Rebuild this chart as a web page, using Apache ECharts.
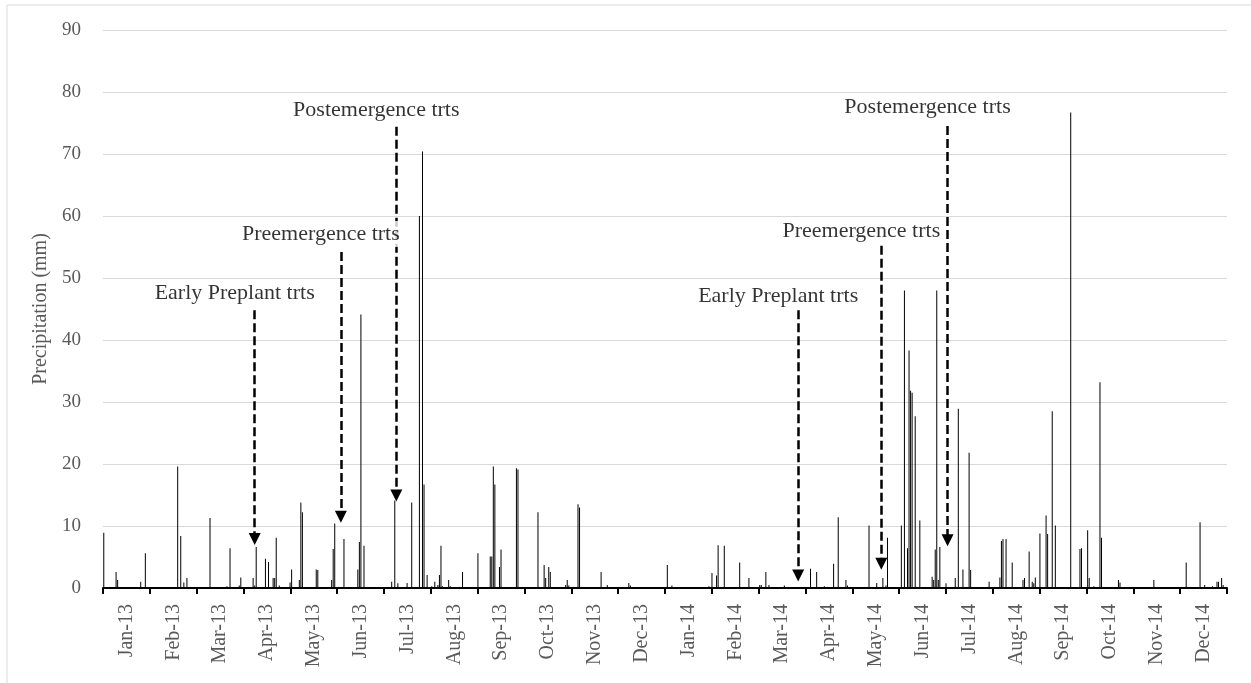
<!DOCTYPE html>
<html>
<head>
<meta charset="utf-8">
<script src="https://cdn.jsdelivr.net/npm/echarts@6/dist/echarts.min.js"></script>
<style>html,body{margin:0;padding:0;background:#fff;}#chart{width:1251px;height:683px;}</style>
</head>
<body>
<div id="chart"></div>
<script>
// Month tick labels
const monthLabels = ['Jan-13','Feb-13','Mar-13','Apr-13','May-13','Jun-13','Jul-13','Aug-13','Sep-13','Oct-13','Nov-13','Dec-13',
  'Jan-14','Feb-14','Mar-14','Apr-14','May-14','Jun-14','Jul-14','Aug-14','Sep-14','Oct-14','Nov-14','Dec-14'];

// Daily precipitation (mm), rain days only; all other days are 0
const rain2013 = [
  ['2013-01-01',8.9],['2013-01-09',2.6],['2013-01-10',1.3],['2013-01-25',1.0],['2013-01-28',5.6],
  ['2013-02-18',19.6],['2013-02-20',8.4],['2013-02-22',0.9],['2013-02-24',1.6],
  ['2013-03-11',11.3],['2013-03-22',0.3],['2013-03-24',6.4],['2013-03-30',0.4],['2013-03-31',1.7],
  ['2013-04-08',1.6],['2013-04-09',0.4],['2013-04-10',6.6],['2013-04-16',4.7],['2013-04-18',4.2],
  ['2013-04-21',1.6],['2013-04-22',1.6],['2013-04-23',8.1],['2013-04-25',0.4],
  ['2013-05-02',0.9],['2013-05-03',3.0],['2013-05-08',1.3],['2013-05-09',13.8],['2013-05-10',12.2],
  ['2013-05-19',3.0],['2013-05-20',2.9],['2013-05-29',1.3],['2013-05-30',6.3],['2013-05-31',10.4],
  ['2013-06-06',7.9],['2013-06-15',3.0],['2013-06-16',7.4],['2013-06-17',44.1],['2013-06-19',6.8],
  ['2013-07-07',1.0],['2013-07-09',14.1],['2013-07-11',0.75],['2013-07-17',0.8],['2013-07-20',13.8],
  ['2013-07-25',60.0],['2013-07-27',70.4],['2013-07-28',16.7],['2013-07-30',2.1],
  ['2013-08-02',0.3],['2013-08-04',1.0],['2013-08-06',0.5],['2013-08-07',2.1],['2013-08-08',6.8],
  ['2013-08-09',0.3],['2013-08-13',1.3],['2013-08-14',0.3],['2013-08-22',2.6],
  ['2013-09-01',5.6],['2013-09-09',5.1],['2013-09-10',5.1],['2013-09-11',19.6],['2013-09-12',16.7],
  ['2013-09-15',3.4],['2013-09-16',6.2],['2013-09-26',19.3],['2013-09-27',19.1],
  ['2013-10-10',12.2],['2013-10-14',3.7],['2013-10-15',1.6],['2013-10-17',3.4],['2013-10-18',2.6],
  ['2013-10-28',0.5],['2013-10-29',1.3],['2013-10-30',0.4],
  ['2013-11-05',13.5],['2013-11-06',13.0],['2013-11-20',2.6],['2013-11-24',0.5],
  ['2013-12-08',0.8],['2013-12-09',0.4]
];
const rain2014 = [
  ['2014-01-02',3.7],['2014-01-05',0.4],['2014-01-29',0.3],['2014-01-31',2.4],
  ['2014-02-03',2.0],['2014-02-04',6.9],['2014-02-08',6.8],['2014-02-18',4.1],['2014-02-24',1.6],
  ['2014-03-03',0.5],['2014-03-04',0.5],['2014-03-07',2.6],['2014-03-09',0.5],['2014-03-19',0.4],
  ['2014-04-05',3.1],['2014-04-09',2.6],['2014-04-14',0.3],['2014-04-20',3.9],['2014-04-23',11.4],
  ['2014-04-28',1.3],['2014-04-29',0.4],
  ['2014-05-13',10.1],['2014-05-18',0.8],['2014-05-22',1.6],['2014-05-24',0.4],['2014-05-25',8.1],
  ['2014-06-03',10.1],['2014-06-05',48.0],['2014-06-07',6.4],['2014-06-08',38.3],['2014-06-09',31.8],
  ['2014-06-10',31.5],['2014-06-12',27.7],['2014-06-15',10.9],['2014-06-23',1.8],['2014-06-24',1.3],
  ['2014-06-25',6.2],['2014-06-26',48.0],['2014-06-27',1.3],['2014-06-28',6.6],
  ['2014-07-02',0.75],['2014-07-08',1.6],['2014-07-10',28.9],['2014-07-13',3.0],['2014-07-17',21.8],
  ['2014-07-18',2.9],['2014-07-30',1.0],
  ['2014-08-06',1.7],['2014-08-07',7.6],['2014-08-08',7.9],['2014-08-10',7.9],['2014-08-14',4.1],
  ['2014-08-21',1.3],['2014-08-22',1.6],['2014-08-25',5.9],['2014-08-27',1.0],['2014-08-28',0.75],
  ['2014-08-29',1.7],
  ['2014-09-01',8.8],['2014-09-05',11.7],['2014-09-06',8.7],['2014-09-09',28.5],['2014-09-11',10.1],
  ['2014-09-21',76.7],['2014-09-27',6.3],['2014-09-28',6.4],
  ['2014-10-02',9.3],['2014-10-03',1.6],['2014-10-06',0.3],['2014-10-10',33.2],['2014-10-11',8.1],
  ['2014-10-22',1.3],['2014-10-23',0.9],
  ['2014-11-14',1.3],
  ['2014-12-05',4.1],['2014-12-14',10.6],['2014-12-17',0.5],['2014-12-22',0.3],['2014-12-25',1.0],
  ['2014-12-26',1.0],['2014-12-28',1.6],['2014-12-29',0.5]
];

// Annotations: label, date of arrow, label height, arrow top, arrow end (mm)
const annLabels = ['Early Preplant trts','Preemergence trts','Postemergence trts','Early Preplant trts','Preemergence trts','Postemergence trts'];
const annDates  = ['2013-04-09','2013-06-04','2013-07-10','2014-03-28','2014-05-21','2014-07-03'];
const annTextY  = [47.6, 57.1, 77.1, 47.0, 57.5, 77.6];
const annTop    = [44.8, 54.2, 74.4, 44.8, 55.2, 74.5];
const annEnd    = [7.9, 11.5, 14.9, 2.0, 3.9, 7.7];

// Daily categories
const days = [];
for (let t = Date.UTC(2013,0,1); t <= Date.UTC(2014,11,31); t += 86400000) {
  days.push(new Date(t).toISOString().slice(0,10));
}
const dayIndex = {};
days.forEach((d,i)=>{dayIndex[d]=i;});
const values = days.map(()=>0);
rain2013.concat(rain2014).forEach(([d,v])=>{ values[dayIndex[d]] = v; });

const serif = 'Liberation Serif, Times New Roman, serif';
const chart = echarts.init(document.getElementById('chart'));
chart.setOption({
  animation: false,
  backgroundColor: '#fff',
  grid: {left: 103, right: 24, top: 30, bottom: 95},
  xAxis: [
    {type:'category', data: days, show:false, boundaryGap:true},
    {type:'category', data: monthLabels, position:'bottom', boundaryGap:true,
     axisLine:{show:true, lineStyle:{color:'#000', width:2}},
     axisTick:{show:true, length:6, interval:0, lineStyle:{color:'#000', width:2}},
     axisLabel:{rotate:90, interval:0, margin:16, color:'#595959', fontSize:20, fontFamily:serif},
     splitLine:{show:false}}
  ],
  yAxis: {
    type:'value', min:0, max:90, interval:10,
    axisLine:{show:false}, axisTick:{show:false},
    axisLabel:{color:'#595959', fontSize:19, fontFamily:serif, margin:22},
    splitLine:{lineStyle:{color:'#d9d9d9', width:1}},
    name:'Precipitation (mm)', nameLocation:'middle', nameGap:52,
    nameTextStyle:{color:'#595959', fontSize:20, fontFamily:serif}
  },
  series: [
    {
      type:'bar', xAxisIndex:0, data: values, barWidth:1,
      itemStyle:{color:'#000'}, silent:true,
      markLine:{
        silent:true, symbol:['none','triangle'], symbolSize:12,
        lineStyle:{type:[9,4], width:2.5, color:'#000'},
        label:{show:false},
        emphasis:{disabled:true},
        data: annDates.map((d,i)=>[{coord:[d, annTop[i]]},{coord:[d, annEnd[i]]}])
      }
    },
    {
      type:'scatter', xAxisIndex:0, z:10, silent:true, symbolSize:1,
      itemStyle:{color:'rgba(0,0,0,0)'},
      label:{show:true, position:'inside', formatter:'{b}', offset:[-20,0],
             color:'#000', fontSize:22, fontFamily:serif, backgroundColor:'#fff', padding:[2,2]},
      data: annDates.map((d,i)=>({name:annLabels[i], value:[d, annTextY[i]]}))
    }
  ],
  graphic: [
    {type:'line', shape:{x1:7, y1:5, x2:7, y2:683}, style:{stroke:'#d9d9d9', lineWidth:1}, silent:true},
    {type:'line', shape:{x1:7, y1:5, x2:1251, y2:5}, style:{stroke:'#d9d9d9', lineWidth:1}, silent:true}
  ]
});
</script>
</body>
</html>
